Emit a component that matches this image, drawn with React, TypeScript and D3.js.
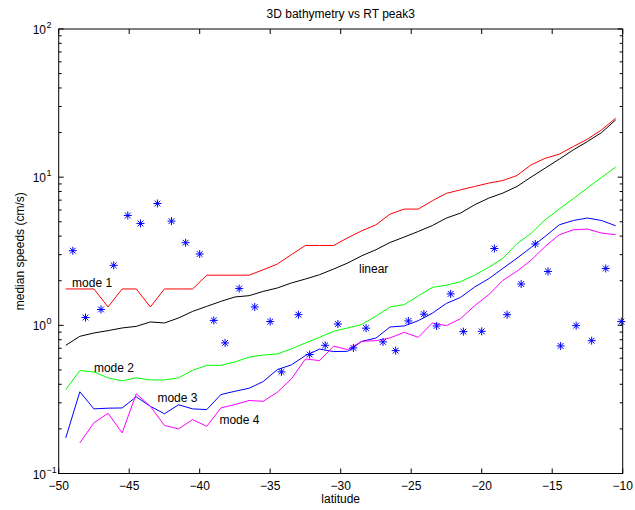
import React, { useEffect, useRef } from "react";
import * as d3 from "d3";

// latitude of the mode / linear curves (one value per degree bin)
const lineLat = [
  -49.5, -48.5, -47.5, -46.5, -45.5, -44.5, -43.5, -42.5, -41.5, -40.5,
  -39.5, -38.5, -37.5, -36.5, -35.5, -34.5, -33.5, -32.5, -31.5, -30.5,
  -29.5, -28.5, -27.5, -26.5, -25.5, -24.5, -23.5, -22.5, -21.5, -20.5,
  -19.5, -18.5, -17.5, -16.5, -15.5, -14.5, -13.5, -12.5, -11.5, -10.5,
];

const mode1 = [
  1.76, 1.76, 1.76, 1.33, 1.76, 1.76, 1.33, 1.76, 1.76, 1.76,
  2.18, 2.18, 2.18, 2.18, 2.37, 2.59, 3.0, 3.46, 3.46, 3.46,
  3.9, 4.35, 4.77, 5.63, 6.09, 6.09, 6.93, 7.78, 8.21, 8.65,
  9.12, 9.49, 10.26, 12.1, 13.4, 14.3, 16.1, 18.05, 20.85, 25.0,
];

const linear = [
  0.733, 0.843, 0.888, 0.921, 0.96, 0.984, 1.054, 1.037, 1.121, 1.242,
  1.343, 1.451, 1.554, 1.585, 1.694, 1.786, 1.931, 2.054, 2.196, 2.399,
  2.634, 2.95, 3.237, 3.625, 3.943, 4.3, 4.714, 5.297, 5.724, 6.51,
  7.22, 7.81, 8.65, 10.0, 11.51, 13.23, 15.29, 17.39, 20.0, 24.35,
];

const mode2 = [
  0.368, 0.495, 0.485, 0.442, 0.422, 0.442, 0.428, 0.428, 0.442, 0.497,
  0.537, 0.537, 0.566, 0.61, 0.63, 0.641, 0.693, 0.761, 0.831, 0.911,
  0.96, 1.015, 1.153, 1.33, 1.379, 1.58, 1.803, 1.866, 1.97, 2.179,
  2.467, 2.83, 3.553, 4.175, 5.158, 6.09, 7.17, 8.46, 9.96, 11.71,
];

const mode3 = [
  0.174, 0.356, 0.273, 0.276, 0.277, 0.329, 0.284, 0.253, 0.291, 0.273,
  0.27, 0.341, 0.359, 0.376, 0.417, 0.502, 0.541, 0.625, 0.691, 0.665,
  0.668, 0.78, 0.82, 0.975, 0.99, 1.075, 1.208, 1.406, 1.544, 1.814,
  2.064, 2.422, 2.837, 3.355, 3.98, 4.77, 5.1, 5.3, 5.1, 4.7,
];

// mode 4 has no value in the first bin
const mode4 = [
  null, 0.161, 0.22, 0.255, 0.188, 0.345, 0.284, 0.211, 0.2, 0.231,
  0.208, 0.277, 0.292, 0.311, 0.307, 0.353, 0.435, 0.593, 0.578, 0.724,
  0.686, 0.78, 0.788, 0.822, 0.897, 0.83, 1.037, 0.995, 1.109, 1.357,
  1.61, 2.01, 2.319, 2.751, 3.407, 4.087, 4.416, 4.465, 4.196, 4.087,
];

// RT peak3 observations (asterisks)
const starLat = [
  -49.0, -48.1, -47.0, -46.1, -45.1, -44.2, -43.0, -42.0, -41.0, -40.0,
  -39.0, -38.2, -37.2, -36.1, -35.0, -34.2, -33.0, -32.2, -31.1, -30.2,
  -29.1, -28.2, -27.0, -26.1, -25.2, -24.1, -23.2, -22.2, -21.3, -20.0,
  -19.1, -18.2, -17.2, -16.2, -15.3, -14.4, -13.3, -12.2, -11.2, -10.1,
];
const starVal = [
  3.19, 1.13, 1.28, 2.54, 5.51, 4.87, 6.64, 5.05, 3.61, 3.03,
  1.08, 0.761, 1.77, 1.33, 1.06, 0.485, 1.18, 0.635, 0.733, 1.02,
  0.704, 0.957, 0.773, 0.675, 1.07, 1.19, 0.99, 1.63, 0.907, 0.911,
  3.3, 1.18, 1.9, 3.54, 2.31, 0.726, 0.995, 0.788, 2.42, 1.06,
];

const xTicks = [-50, -45, -40, -35, -30, -25, -20, -15, -10];
const yTicks = [0.1, 1, 10, 100];
const yTickExp = ["\u22121", "0", "1", "2"];

const labelText = ["mode 1", "linear", "mode 2", "mode 3", "mode 4"];
const labelLat = [-49.05, -28.7, -47.5, -43.0, -38.6];
const labelVal = [1.94, 2.39, 0.518, 0.325, 0.231];

const FONT = "'Liberation Sans', Arial, Helvetica, sans-serif";

const App: React.FC = () => {
  const svgRef = useRef<SVGSVGElement>(null);

  useEffect(() => {
    const svg = d3.select(svgRef.current);
    svg.selectAll("*").remove();

    const left = 58.7;
    const right = 622.7;
    const top = 29;
    const bottom = 473.5;

    const x = d3.scaleLinear().domain([-50, -10]).range([left, right]);
    const y = d3.scaleLog().domain([0.1, 100]).range([bottom, top]);

    const g = svg.append("g");

    // frame
    g.append("rect")
      .attr("x", left)
      .attr("y", top)
      .attr("width", right - left)
      .attr("height", bottom - top)
      .attr("fill", "white")
      .attr("stroke", "black")
      .attr("stroke-width", 1);

    // x ticks (bottom & top, pointing inward)
    xTicks.forEach((t) => {
      g.append("line")
        .attr("x1", x(t)).attr("x2", x(t))
        .attr("y1", bottom).attr("y2", bottom - 5)
        .attr("stroke", "black");
      g.append("line")
        .attr("x1", x(t)).attr("x2", x(t))
        .attr("y1", top).attr("y2", top + 5)
        .attr("stroke", "black");
      g.append("text")
        .attr("x", x(t))
        .attr("y", bottom + 16)
        .attr("text-anchor", "middle")
        .attr("font-family", FONT)
        .attr("font-size", 12)
        .text(String(t).replace("-", "\u2212"));
    });

    // y ticks, minor then major, on both sides
    const minor: number[] = [];
    [0.1, 1, 10].forEach((dec) => {
      [2, 3, 4, 5, 6, 7, 8, 9].forEach((m) => minor.push(dec * m));
    });
    minor.forEach((v) => {
      g.append("line")
        .attr("x1", left).attr("x2", left + 3)
        .attr("y1", y(v)).attr("y2", y(v))
        .attr("stroke", "black");
      g.append("line")
        .attr("x1", right).attr("x2", right - 3)
        .attr("y1", y(v)).attr("y2", y(v))
        .attr("stroke", "black");
    });
    yTicks.forEach((v, i) => {
      g.append("line")
        .attr("x1", left).attr("x2", left + 5)
        .attr("y1", y(v)).attr("y2", y(v))
        .attr("stroke", "black");
      g.append("line")
        .attr("x1", right).attr("x2", right - 5)
        .attr("y1", y(v)).attr("y2", y(v))
        .attr("stroke", "black");
      g.append("text")
        .attr("x", 46)
        .attr("y", y(v) + 5)
        .attr("text-anchor", "end")
        .attr("font-family", FONT)
        .attr("font-size", 12)
        .text("10");
      g.append("text")
        .attr("x", 46.5)
        .attr("y", y(v) - 1)
        .attr("font-family", FONT)
        .attr("font-size", 9)
        .text(yTickExp[i]);
    });

    // curves
    const series = [
      { vals: mode1, color: "#ff0000" },
      { vals: linear, color: "#000000" },
      { vals: mode2, color: "#00ff00" },
      { vals: mode3, color: "#0000ff" },
      { vals: mode4, color: "#ff00ff" },
    ];
    const line = d3
      .line<number | null>()
      .defined((d) => d != null)
      .x((_: any, i: any) => x(lineLat[i]))
      .y((d: any) => y(d));

    series.forEach((s) => {
      g.append("path")
        .datum(s.vals)
        .attr("d", line as any)
        .style("fill", "none")
        .style("stroke", s.color)
        .style("stroke-width", "1px");
    });

    // asterisks
    const r = 4;
    const rd = r * 0.72;
    const starPath =
      `M${-r},0L${r},0M0,${-r}L0,${r}` +
      `M${-rd},${-rd}L${rd},${rd}M${-rd},${rd}L${rd},${-rd}`;
    starVal.forEach((v, i) => {
      g.append("path")
        .attr("transform", `translate(${x(starLat[i])},${y(v)})`)
        .attr("d", starPath)
        .attr("fill", "none")
        .attr("stroke", "#0000ff")
        .attr("stroke-width", 1);
    });

    // in-plot labels
    labelText.forEach((t, i) => {
      g.append("text")
        .attr("x", x(labelLat[i]))
        .attr("y", y(labelVal[i]))
        .attr("dy", "0.35em")
        .attr("font-family", FONT)
        .attr("font-size", 12)
        .attr("fill", "black")
        .text(t);
    });

    // title and axis labels
    g.append("text")
      .attr("x", (left + right) / 2)
      .attr("y", 18)
      .attr("text-anchor", "middle")
      .attr("font-family", FONT)
      .attr("font-size", 12)
      .text("3D bathymetry vs RT peak3");
    g.append("text")
      .attr("x", (left + right) / 2)
      .attr("y", 503)
      .attr("text-anchor", "middle")
      .attr("font-family", FONT)
      .attr("font-size", 12)
      .text("latitude");
    g.append("text")
      .attr("transform", `translate(23.5,${(top + bottom) / 2}) rotate(-90)`)
      .attr("text-anchor", "middle")
      .attr("font-family", FONT)
      .attr("font-size", 12)
      .text("median speeds (cm/s)");

    return () => {
      svg.selectAll("*").remove();
    };
  }, []);

  return (
    <svg
      ref={svgRef}
      width="635"
      height="510"
      style={{ position: "absolute", left: 0, top: 0, background: "white" }}
    />
  );
};

export default App;
